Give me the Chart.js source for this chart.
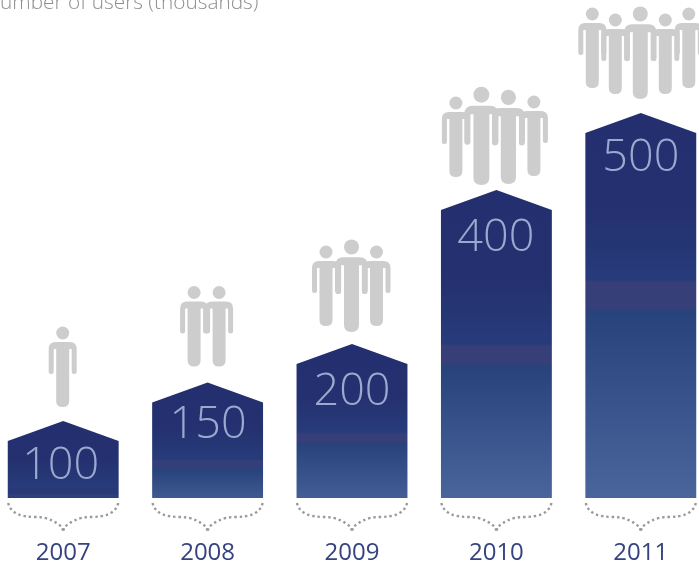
<!DOCTYPE html>
<html>
<head>
<meta charset="utf-8">
<title>Number of users</title>
<script src="https://cdn.jsdelivr.net/npm/chart.js@4"></script>
<style>
  html, body { margin: 0; padding: 0; background: #fff; overflow: hidden; width: 699px; height: 564px; }
  #wrap { position: absolute; left: -10px; top: 0; width: 723px; height: 564px; }
</style>
</head>
<body>
<div id="wrap"><canvas id="usersChart" width="723" height="564"></canvas></div>
<script>
const years = ['2007', '2008', '2009', '2010', '2011'];
const users = [100, 150, 200, 400, 500];
const axisTitle = 'Number of users (thousands)';

// people above each bar: [offset from bar centre, gap above the peak, scale]
const crowds = [
  [[-0.5, 14, 1]],
  [[-13.5, 16, 1], [11.5, 16, 1]],
  [[-26, 18, 1], [-0.5, 12, 1.15], [24.5, 18, 1]],
  [[-40.5, 13, 1], [-15, 5, 1.22], [12, 6, 1.17], [37.5, 14, 1]],
  [[-48.5, 25, 1], [-25.5, 19, 1], [-0.5, 14, 1.15], [24.5, 19, 1], [48, 25, 1]]
];

// where the lighter band sits in each bar, its colour, and the colour at the foot
const shades = [
  [0.88, 0.95, '#2b3776', '#2c3d7c'],
  [0.67, 0.74, '#343e78', '#3f5a90'],
  [0.58, 0.64, '#363f78', '#435d96'],
  [0.503, 0.568, '#363f78', '#4a659c'],
  [0.436, 0.51, '#363f78', '#4a659c']
];

// how far each value label sits below its peak, and any sideways nudge
const labelDrops = [45, 43, 48, 48, 45];
const labelNudges = [-2.5, 0.5, 0, -0.5, 0];

const shoulderDrop = 20;

function drawPerson(ctx, x, footY, s) {
  ctx.save();
  ctx.translate(x, footY);
  ctx.scale(s, s);
  ctx.fillStyle = '#cdcdcd';
  ctx.beginPath();
  ctx.moveTo(-6.5, -6);
  ctx.lineTo(-6.5, -58);
  ctx.lineTo(-9, -58);
  ctx.lineTo(-9, -35.5);
  ctx.arc(-11.5, -35.5, 2.5, 0, Math.PI);
  ctx.lineTo(-14, -58);
  ctx.quadraticCurveTo(-14, -65, -7, -65);
  ctx.lineTo(7, -65);
  ctx.quadraticCurveTo(14, -65, 14, -58);
  ctx.lineTo(14, -35.5);
  ctx.arc(11.5, -35.5, 2.5, 0, Math.PI);
  ctx.lineTo(9, -58);
  ctx.lineTo(6.5, -58);
  ctx.lineTo(6.5, -6);
  ctx.quadraticCurveTo(6.5, 0, 0, 0);
  ctx.quadraticCurveTo(-6.5, 0, -6.5, -6);
  ctx.closePath();
  ctx.fill();
  ctx.beginPath();
  ctx.arc(0, -74, 6.5, 0, Math.PI * 2);
  ctx.fill();
  ctx.restore();
}

function drawBrace(ctx, x, base) {
  ctx.save();
  ctx.strokeStyle = '#9a9a9a';
  ctx.lineWidth = 2.4;
  ctx.setLineDash([2.4, 2.9]);
  [-1, 1].forEach(function (side) {
    ctx.beginPath();
    ctx.moveTo(x + side * 55, base + 5);
    ctx.bezierCurveTo(x + side * 53, base + 15, x + side * 42, base + 19, x + side * 28, base + 19);
    ctx.bezierCurveTo(x + side * 13, base + 19, x + side * 7, base + 25, x + side * 1, base + 29);
    ctx.lineTo(x, base + 34);
    ctx.stroke();
  });
  ctx.restore();
}

// pentagon bars, their value labels, the people and the braces
const housePlugin = {
  id: 'houseBars',
  afterDatasetsDraw: function (chart) {
    const ctx = chart.ctx;
    const bars = chart.getDatasetMeta(0).data;
    bars.forEach(function (bar, i) {
      const half = bar.width / 2;
      const shade = shades[i];
      const soft = 1.5 / (bar.base - bar.y);
      const grad = ctx.createLinearGradient(0, bar.y, 0, bar.base);
      grad.addColorStop(0, '#232f6e');
      grad.addColorStop(shade[0] * 0.55, '#24306f');
      grad.addColorStop(shade[0] - soft, '#273b7a');
      grad.addColorStop(shade[0] + soft, shade[2]);
      grad.addColorStop(shade[1] - soft, shade[2]);
      grad.addColorStop(shade[1] + soft, '#28437c');
      grad.addColorStop(1, shade[3]);

      ctx.fillStyle = grad;
      ctx.beginPath();
      ctx.moveTo(bar.x - half, bar.base);
      ctx.lineTo(bar.x - half, bar.y + shoulderDrop);
      ctx.lineTo(bar.x, bar.y);
      ctx.lineTo(bar.x + half, bar.y + shoulderDrop);
      ctx.lineTo(bar.x + half, bar.base);
      ctx.closePath();
      ctx.fill();

      ctx.fillStyle = '#9aa9cf';
      ctx.font = '300 45px "Open Sans"';
      ctx.textAlign = 'center';
      ctx.textBaseline = 'middle';
      ctx.fillText(String(users[i]), bar.x + labelNudges[i], bar.y + labelDrops[i]);

      crowds[i].forEach(function (p) {
        drawPerson(ctx, bar.x + p[0], bar.y - p[1], p[2]);
      });
      drawBrace(ctx, bar.x, bar.base);
    });

    ctx.save();
    ctx.fillStyle = '#8f8f8f';
    ctx.font = '300 20.8px "Open Sans"';
    ctx.textAlign = 'left';
    ctx.textBaseline = 'alphabetic';
    ctx.fillText(axisTitle, -5, 9);
    ctx.restore();
  }
};

new Chart(document.getElementById('usersChart'), {
  type: 'bar',
  data: {
    labels: years,
    datasets: [{
      data: users,
      backgroundColor: 'rgba(0,0,0,0)',
      categoryPercentage: 0.768,
      barPercentage: 1
    }]
  },
  options: {
    responsive: false,
    animation: false,
    layout: { padding: { top: 113, left: 1, right: 0, bottom: 0 } },
    plugins: { legend: { display: false }, tooltip: { enabled: false } },
    scales: {
      x: {
        grid: { display: false },
        border: { display: false },
        afterFit: function (scale) { scale.height = 66; },
        ticks: {
          padding: 33,
          maxRotation: 0,
          color: '#35437f',
          font: { family: '"Open Sans"', size: 24, weight: '400' }
        }
      },
      y: { display: false, min: 0, max: 500 }
    }
  },
  plugins: [housePlugin]
});
</script>
</body>
</html>
